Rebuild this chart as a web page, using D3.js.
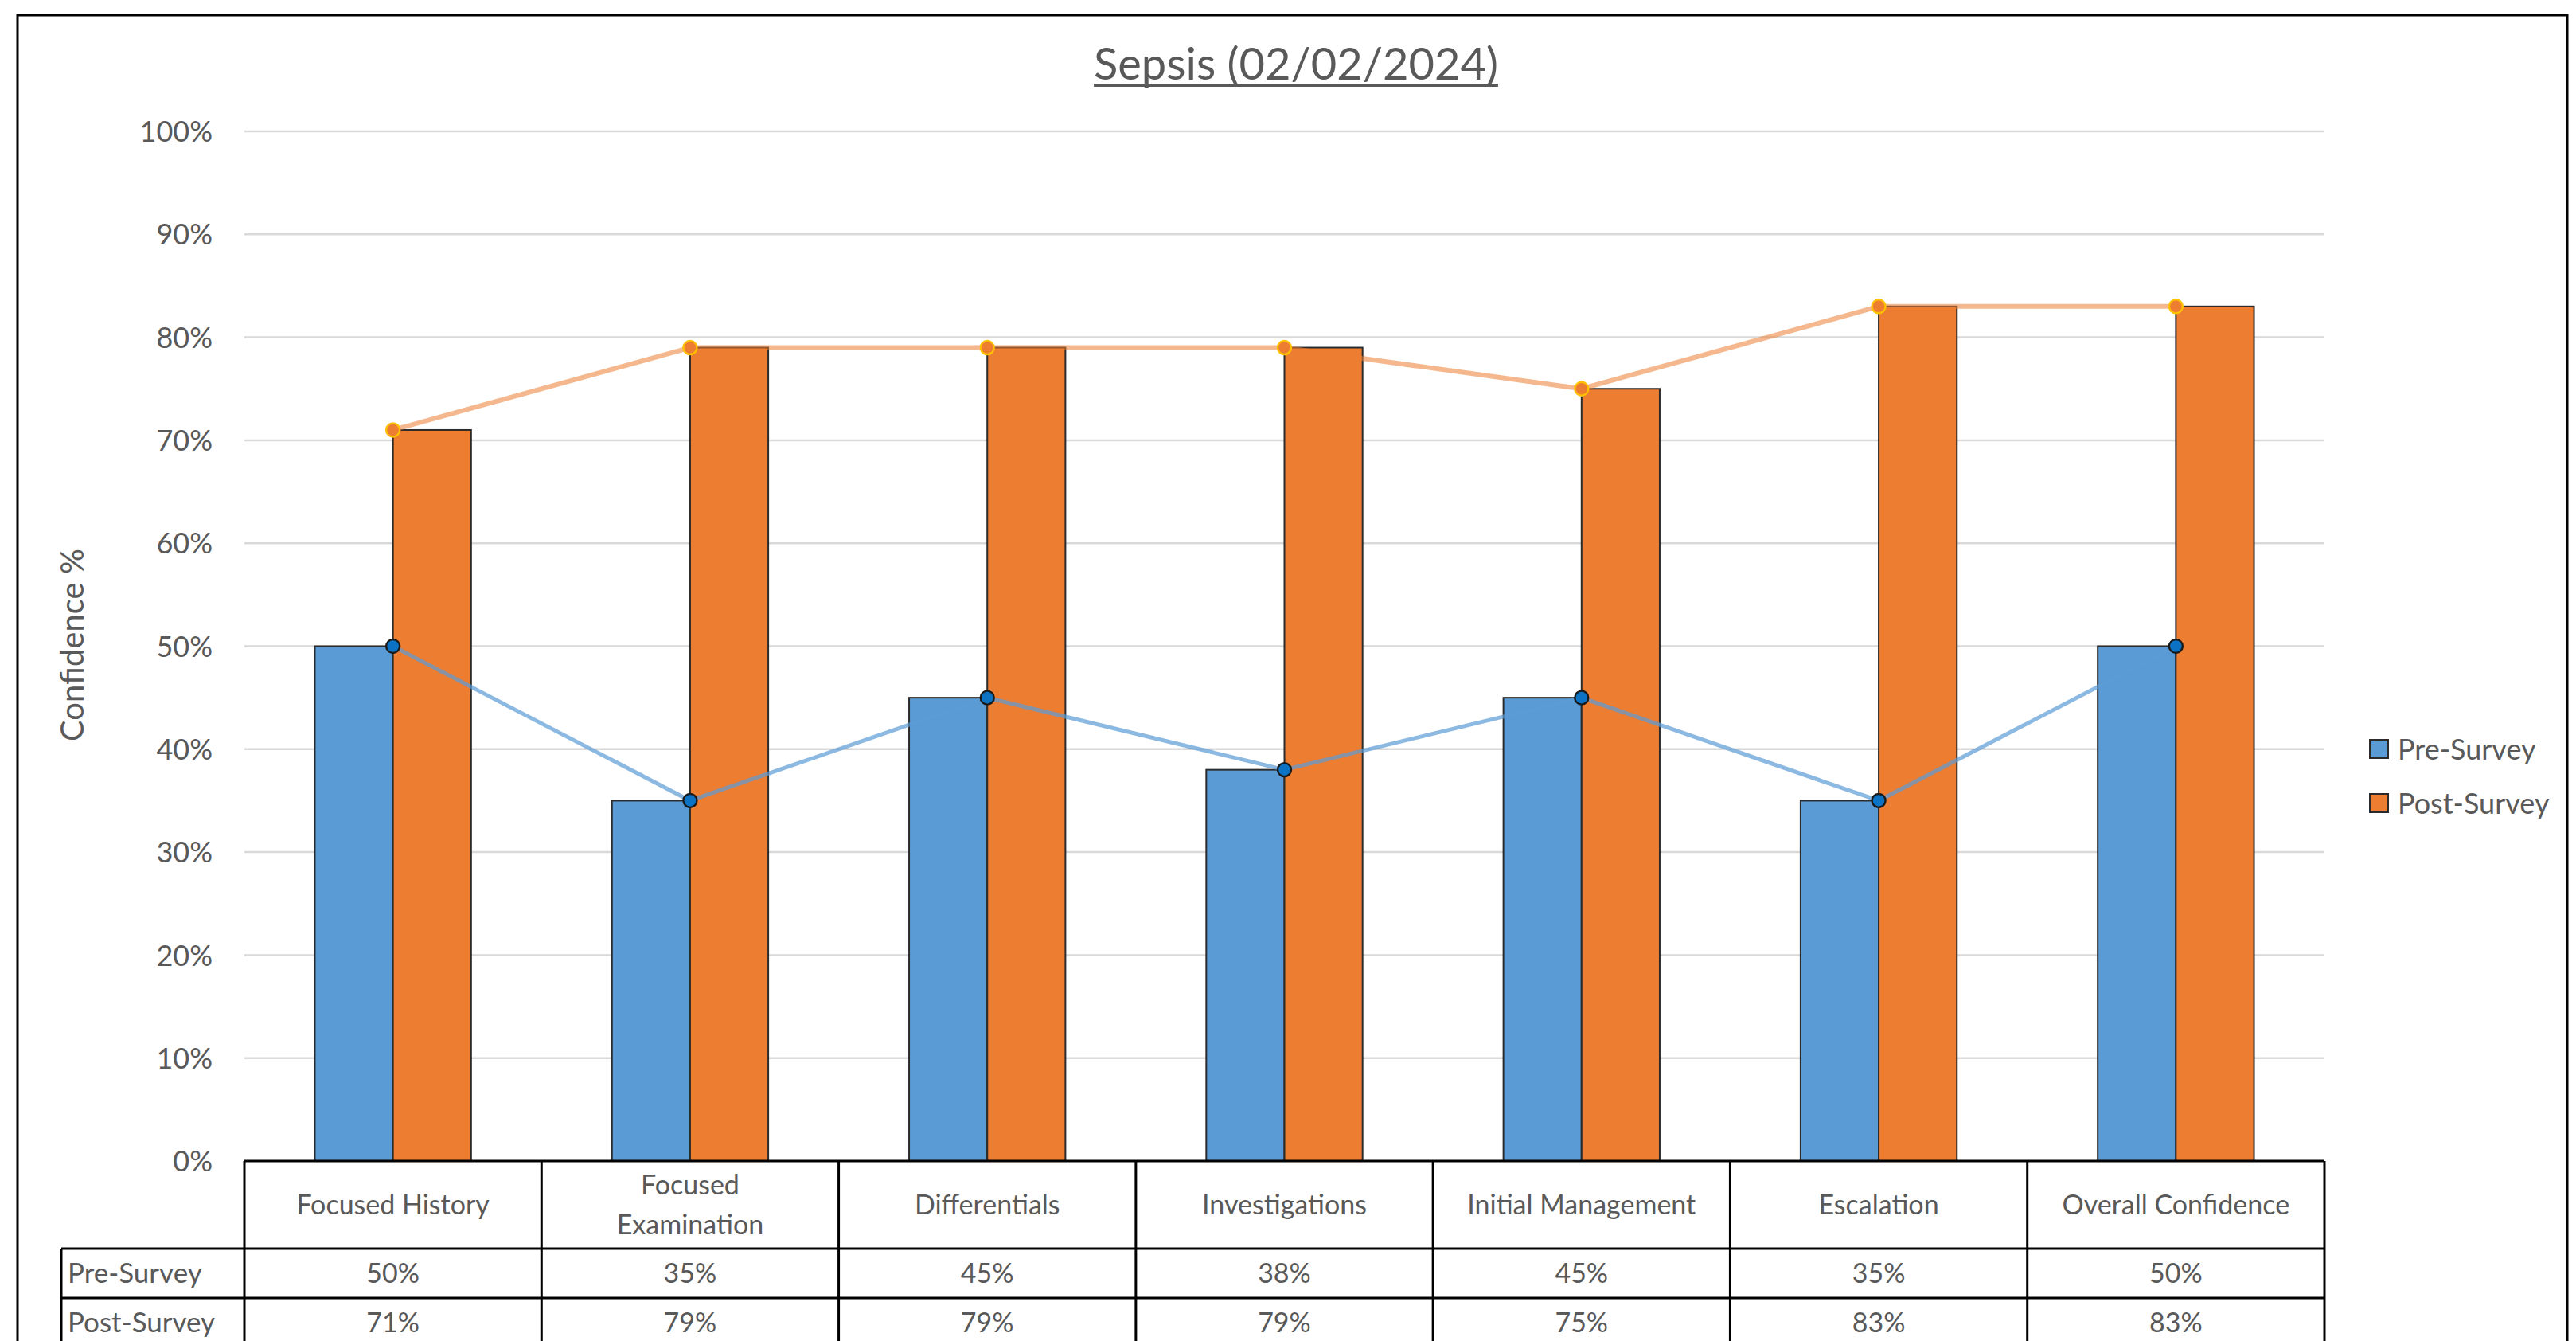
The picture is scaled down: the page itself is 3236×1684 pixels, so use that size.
<!DOCTYPE html>
<html>
<head>
<meta charset="utf-8">
<script src="https://cdn.jsdelivr.net/npm/d3@7"></script>
<style>
  html, body { margin: 0; padding: 0; background: #fff; }
  svg { display: block; }
  text { font-family: Lato, "Open Sans", sans-serif; fill: #595959; }
</style>
</head>
<body>
<svg id="chart" width="3236" height="1684"></svg>
<script>
// ---- data ----
const categories = ["Focused History", "Focused Examination", "Differentials", "Investigations", "Initial Management", "Escalation", "Overall Confidence"];
const categoryLines = [["Focused History"], ["Focused", "Examination"], ["Differentials"], ["Investigations"], ["Initial Management"], ["Escalation"], ["Overall Confidence"]];
const seriesNames = ["Pre-Survey", "Post-Survey"];
const preSurvey = [0.50, 0.35, 0.45, 0.38, 0.45, 0.35, 0.50];
const postSurvey = [0.71, 0.79, 0.79, 0.79, 0.75, 0.83, 0.83];
const yTicks = [0, 0.1, 0.2, 0.3, 0.4, 0.5, 0.6, 0.7, 0.8, 0.9, 1.0];
const titleText = "Sepsis (02/02/2024)";
const yAxisTitle = "Confidence %";

// ---- styles ----
const barColors = ["#5B9BD5", "#ED7D31"];
const markerFill = ["#0B72C4", "#ED7D31"];
const markerStroke = ["#1a1a1a", "#FFC000"];

const svg = d3.select("#chart");

// outer border
svg.append("rect").attr("x", 22).attr("y", 19).attr("width", 3225 - 22).attr("height", 1800)
  .attr("fill", "#fff").attr("stroke", "#000").attr("stroke-width", 3);

const plotL = 307, plotR = 2920, plotT = 165, plotB = 1458;

const x0 = d3.scaleBand().domain(categories).range([plotL, plotR]).paddingInner(0.474).paddingOuter(0.237);
const x1 = d3.scaleBand().domain(seriesNames).range([0, x0.bandwidth()]);
const y = d3.scaleLinear().domain([0, 1]).range([plotB, plotT]);
const fmt = d3.format(".0%");

// gridlines
svg.append("g").selectAll("line").data(yTicks.filter(d => d > 0)).join("line")
  .attr("x1", plotL).attr("x2", plotR)
  .attr("y1", d => y(d)).attr("y2", d => y(d))
  .attr("stroke", "#D9D9D9").attr("stroke-width", 2.5);

// y axis labels via d3 axis
const yAxis = d3.axisLeft(y).tickValues(yTicks).tickFormat(fmt).tickSize(0).tickPadding(0);
const gy = svg.append("g").attr("transform", `translate(${plotL - 40},0)`).call(yAxis);
gy.select(".domain").remove();
gy.selectAll("text").attr("font-size", 36).attr("fill", "#595959")
  .style("font-family", "Lato, sans-serif").attr("dy", "0.35em");

// bars
const seriesData = [preSurvey, postSurvey];
const gBars = svg.append("g");
seriesData.forEach((vals, si) => {
  gBars.selectAll(null).data(categories).join("rect")
    .attr("x", c => x0(c) + x1(seriesNames[si]))
    .attr("y", (c, i) => y(vals[i]))
    .attr("width", x1.bandwidth())
    .attr("height", (c, i) => y(0) - y(vals[i]))
    .attr("fill", barColors[si])
    .attr("stroke", "#2b2b2b").attr("stroke-width", 2);
});

// lines
const cx = c => x0(c) + x0.bandwidth() / 2;
const lineGen = d3.line().x(d => cx(d.c)).y(d => y(d.v));
const lineWidths = [5, 6];
const lineOpac = [0.7, 0.55];
const lineStrokes = ["#5B9BD5", "#ED7D31"];
[1, 0].forEach(si => {
  const pts = categories.map((c, i) => ({ c, v: seriesData[si][i] }));
  svg.append("path").datum(pts).attr("d", lineGen)
    .attr("fill", "none").attr("stroke", lineStrokes[si])
    .attr("stroke-width", lineWidths[si]).attr("stroke-opacity", lineOpac[si])
    .attr("stroke-linejoin", "round");
});
[1, 0].forEach(si => {
  const pts = categories.map((c, i) => ({ c, v: seriesData[si][i] }));
  svg.append("g").selectAll("circle").data(pts).join("circle")
    .attr("cx", d => cx(d.c)).attr("cy", d => y(d.v)).attr("r", 8.5)
    .attr("fill", markerFill[si]).attr("stroke", markerStroke[si]).attr("stroke-width", 2.4);
});

// ---- data table ----
const step = x0.step();
const rowTop = plotB, headerBottom = 1568, row1Bottom = 1630, row2Bottom = 1692;
const labelL = 77;
const gT = svg.append("g");
const tStroke = "#000", tW = 3;
gT.append("line").attr("x1", plotL).attr("x2", plotR).attr("y1", rowTop).attr("y2", rowTop).attr("stroke", tStroke).attr("stroke-width", tW);
[headerBottom, row1Bottom, row2Bottom].forEach(yy => {
  gT.append("line").attr("x1", labelL).attr("x2", plotR).attr("y1", yy).attr("y2", yy).attr("stroke", tStroke).attr("stroke-width", tW);
});
d3.range(categories.length + 1).forEach(i => {
  const xx = plotL + i * step;
  gT.append("line").attr("x1", xx).attr("x2", xx).attr("y1", rowTop).attr("y2", row2Bottom).attr("stroke", tStroke).attr("stroke-width", tW);
});
gT.append("line").attr("x1", labelL).attr("x2", labelL).attr("y1", headerBottom).attr("y2", row2Bottom).attr("stroke", tStroke).attr("stroke-width", tW);

categories.forEach((c, i) => {
  const lines = categoryLines[i];
  const cxx = plotL + (i + 0.5) * step;
  const mid = (rowTop + headerBottom) / 2;
  const lh = 50;
  lines.forEach((ln, k) => {
    gT.append("text").attr("x", cxx)
      .attr("y", mid + (k - (lines.length - 1) / 2) * lh + 12)
      .attr("text-anchor", "middle").attr("font-size", 34).text(ln);
  });
});
const rows = [[headerBottom, row1Bottom], [row1Bottom, row2Bottom]];
seriesNames.forEach((name, si) => {
  const mid = (rows[si][0] + rows[si][1]) / 2;
  gT.append("text").attr("x", 85).attr("y", mid + 12).attr("font-size", 35).text(name);
  categories.forEach((c, i) => {
    gT.append("text").attr("x", plotL + (i + 0.5) * step).attr("y", mid + 12)
      .attr("text-anchor", "middle").attr("font-size", 34).text(fmt(seriesData[si][i]));
  });
});

// title
const t = svg.append("text").attr("x", 1628).attr("y", 100).attr("text-anchor", "middle")
  .attr("font-size", 56).text(titleText);
const tw = t.node().getComputedTextLength();
svg.append("line").attr("x1", 1628 - tw / 2).attr("x2", 1628 + tw / 2).attr("y1", 107).attr("y2", 107)
  .attr("stroke", "#595959").attr("stroke-width", 4);

// y axis title
svg.append("text").attr("transform", "translate(105,810) rotate(-90)")
  .attr("text-anchor", "middle").attr("font-size", 40).text(yAxisTitle);

// legend
const legY = [940.5, 1008.5];
seriesNames.forEach((name, si) => {
  svg.append("rect").attr("x", 2977).attr("y", legY[si] - 11.5).attr("width", 23).attr("height", 23)
    .attr("fill", barColors[si]).attr("stroke", "#2b2b2b").attr("stroke-width", 2);
  svg.append("text").attr("x", 3012).attr("y", legY[si] + 13).attr("font-size", 36).text(name);
});
</script>
</body>
</html>
